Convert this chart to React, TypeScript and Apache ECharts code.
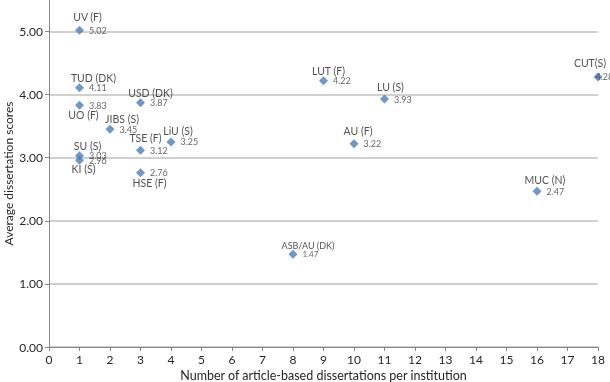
import React, { useEffect, useRef } from "react";
import * as echarts from "echarts";

const institutions = ["UV (F)", "TUD (DK)", "UO (F)", "USD (DK)", "JIBS (S)", "LiU (S)", "TSE (F)", "SU (S)", "KI (S)", "HSE (F)", "LUT (F)", "LU (S)", "AU (F)", "CUT(S)", "MUC (N)", "ASB/AU (DK)"];
const dissertations = [1, 1, 1, 3, 2, 4, 3, 1, 1, 3, 9, 11, 10, 18, 16, 8];
const scores = [5.02, 4.11, 3.83, 3.87, 3.45, 3.25, 3.12, 3.03, 2.96, 2.76, 4.22, 3.93, 3.22, 4.28, 2.47, 1.47];
const xTicks = [0, 18];
const yTicks = [0, 5.5];

// label layout (style only): name label offsets [dx, dy] from the point
const nameOffsets: [number, number][] = [
  [8, -13], [14, -10], [4, 10], [10, -10], [12, -10], [7, -11], [5, -12], [8, -10], [4, 9], [9, 10],
  [5, -10], [6, -12], [4, -13], [-8, -14], [8, -11], [15, -9],
];
const valueOffsets: [number, number][] = dissertations.map((_, i) => (i === 13 ? [-12, 0] : [0, 0]));

const FONT = "Lato, 'Open Sans', sans-serif";

export default function App() {
  const ref = useRef<HTMLDivElement>(null);
  useEffect(() => {
    if (!ref.current) return;
    const chart = echarts.init(ref.current, undefined, { renderer: "svg" });
    const valueData = dissertations.map((x, i) => ({
      value: [x, scores[i]],
      label: {
        offset: valueOffsets[i],
        fontSize: i === 15 ? 8 : 9,
      },
    }));
    const nameData = dissertations.map((x, i) => ({
      value: [x, scores[i]],
      name: institutions[i],
      label: {
        offset: nameOffsets[i],
        fontSize: i === 15 ? 9 : 10.5,
      },
    }));
    chart.setOption({
      animation: false,
      textStyle: { fontFamily: FONT },
      grid: { left: 49, right: 12, top: 0, bottom: 35, outerBoundsMode: "none", containLabel: false },
      xAxis: {
        type: "value",
        min: xTicks[0],
        max: xTicks[1],
        interval: 1,
        name: "Number of article-based dissertations per institution",
        nameLocation: "middle",
        nameGap: 22,
        nameMoveOverlap: false,
        nameTextStyle: { fontSize: 12.5, color: "#262626", fontFamily: FONT },
        axisLine: { show: true, onZero: false, lineStyle: { color: "#868686", width: 1 } },
        axisTick: { show: true, length: 4, lineStyle: { color: "#868686" } },
        axisLabel: { fontSize: 12, color: "#262626", margin: 6, fontFamily: FONT },
        splitLine: { show: false },
      },
      yAxis: {
        type: "value",
        min: yTicks[0],
        max: yTicks[1],
        interval: 1,
        name: "Average dissertation scores",
        nameLocation: "middle",
        nameGap: 35,
        nameMoveOverlap: false,
        nameTextStyle: { fontSize: 12, color: "#262626", fontFamily: FONT },
        axisLine: { show: true, lineStyle: { color: "#868686", width: 1 } },
        axisTick: { show: true, length: 4, lineStyle: { color: "#868686" } },
        axisLabel: {
          fontSize: 12,
          color: "#262626",
          margin: 6,
          fontFamily: FONT,
          showMaxLabel: false,
          formatter: (v: number) => v.toFixed(2),
        },
        splitLine: { show: true, showMaxLine: false, lineStyle: { color: "#c0c0c0", width: 1.5 } },
      },
      series: [
        {
          type: "scatter",
          symbol: "diamond",
          symbolSize: 0,
          data: nameData,
          silent: true,
          label: {
            show: true,
            position: "inside",
            formatter: (p: any) => p.name,
            color: "#262626",
            fontFamily: FONT,
          },
          z: 3,
        },
        {
          type: "scatter",
          symbol: "diamond",
          symbolSize: 9,
          itemStyle: { color: "#4a7ebb" },
          data: valueData,
          label: {
            show: true,
            position: "right",
            distance: 5,
            formatter: (p: any) => p.value[1].toFixed(2),
            color: "#404040",
            fontFamily: FONT,
          },
          z: 2,
        },
      ],
    });
    return () => chart.dispose();
  }, []);
  return <div ref={ref} style={{ position: "fixed", left: 0, top: 0, width: 610, height: 382 }} />;
}
